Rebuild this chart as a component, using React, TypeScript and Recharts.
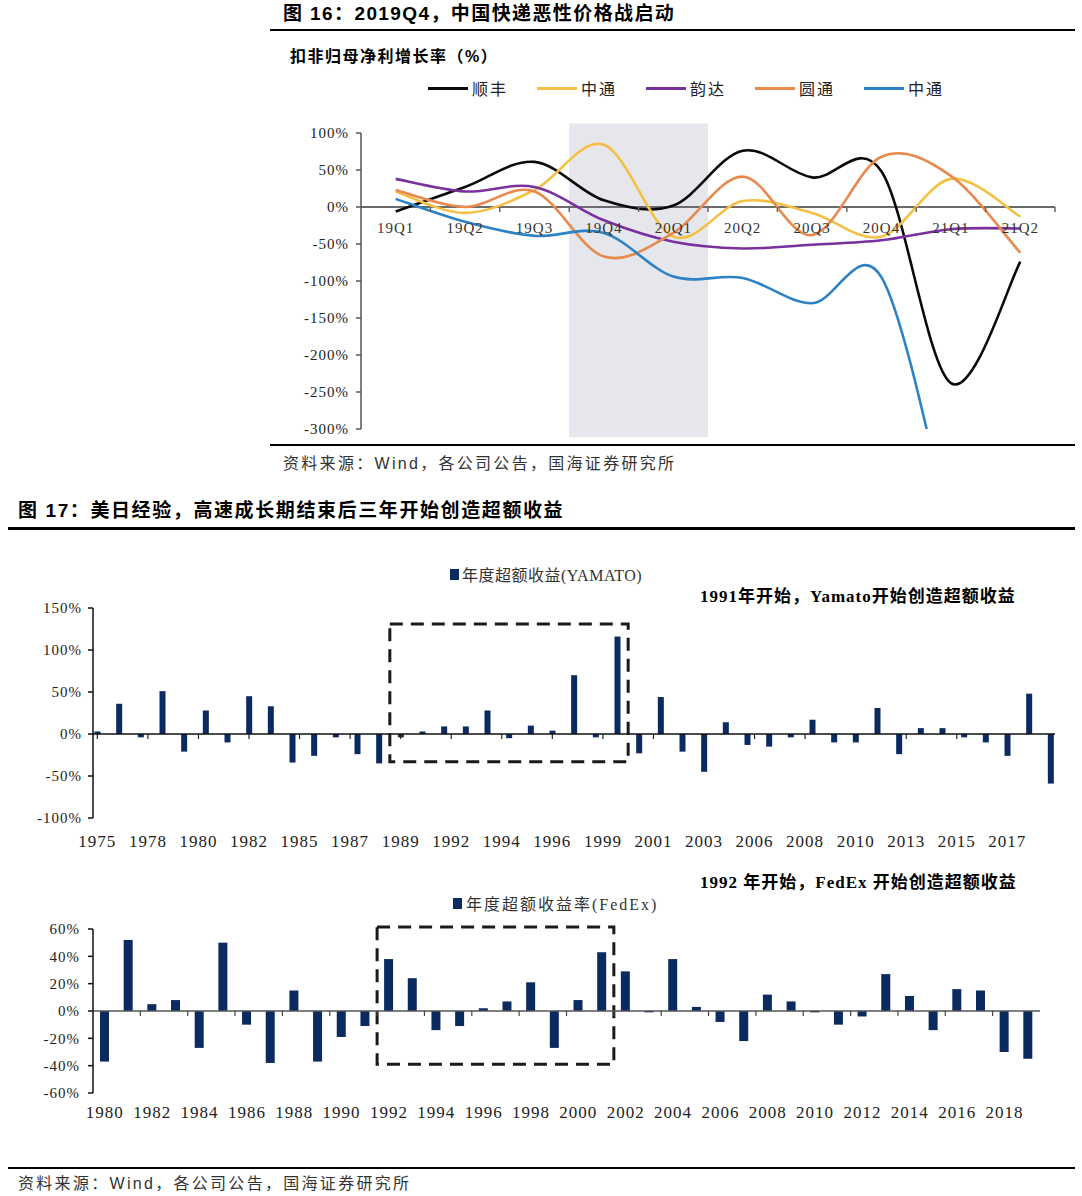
import React from 'react'
import {
  Bar,
  BarChart,
  Line,
  LineChart,
  ReferenceArea,
  ReferenceDot,
  ReferenceLine,
  XAxis,
  YAxis,
} from 'recharts'

// ---- 图16 data (扣非归母净利增长率, %) ----
const quarters = ['19Q1', '19Q2', '19Q3', '19Q4', '20Q1', '20Q2', '20Q3', '20Q4', '21Q1', '21Q2']
const sfGrowth = [-6, 27, 61, 9, 2, 76, 40, 48, -238, -74]
const ztoGrowth = [21, -8, 23, 84, -40, 8, -8, -40, 38, -13]
const yundaGrowth = [38, 21, 27, -18, -47, -56, -51, -45, -30, -29]
const ytoGrowth = [23, 0, 21, -67, -35, 41, -38, 68, 42, -62]
const stoGrowth = [11, -20, -39, -35, -94, -96, -130, -95, -440, null]
const growthTicks = [-300, -250, -200, -150, -100, -50, 0, 50, 100]

// ---- 图17 data (年度超额收益, %) ----
const yamatoYears = [
  1975, 1976, 1977, 1978, 1979, 1980, 1981, 1982, 1983, 1984, 1985, 1986, 1987, 1988, 1989,
  1990, 1991, 1992, 1993, 1994, 1995, 1996, 1997, 1998, 1999, 2000, 2001, 2002, 2003, 2004,
  2005, 2006, 2007, 2008, 2009, 2010, 2011, 2012, 2013, 2014, 2015, 2016, 2017, 2018, 2019,
]
const yamatoExcess = [
  3, 36, -4, 51, -21, 28, -10, 45, 33, -34, -26, -4, -24, -35, -4,
  3, 9, 9, 28, -5, 10, 4, 70, -4, 116, -23, 44, -21, -45, 14,
  -13, -15, -4, 17, -10, -10, 31, -24, 7, 7, -4, -10, -26, 48, -59,
]
const yamatoTickLabels = [
  '1975', '1978', '1980', '1982', '1985', '1987', '1989', '1992', '1994', '1996',
  '1999', '2001', '2003', '2006', '2008', '2010', '2013', '2015', '2017',
]
const yamatoTicks = [-100, -50, 0, 50, 100, 150]

const fedexYears = [
  1980, 1981, 1982, 1983, 1984, 1985, 1986, 1987, 1988, 1989, 1990, 1991, 1992, 1993, 1994,
  1995, 1996, 1997, 1998, 1999, 2000, 2001, 2002, 2003, 2004, 2005, 2006, 2007, 2008, 2009,
  2010, 2011, 2012, 2013, 2014, 2015, 2016, 2017, 2018, 2019,
]
const fedexExcess = [
  -37, 52, 5, 8, -27, 50, -10, -38, 15, -37, -19, -11, 38, 24, -14,
  -11, 2, 7, 21, -27, 8, 43, 29, -1, 38, 3, -8, -22, 12, 7,
  -1, -10, -4, 27, 11, -14, 16, 15, -30, -35,
]
const fedexTicks = [-60, -40, -20, 0, 20, 40, 60]

const growthRows = quarters.map((q, i) => ({
  q,
  sf: sfGrowth[i],
  zto: ztoGrowth[i],
  yunda: yundaGrowth[i],
  yto: ytoGrowth[i],
  sto: stoGrowth[i],
}))
const yamatoRows = yamatoYears.map((year, i) => ({ year, v: yamatoExcess[i] }))
const fedexRows = fedexYears.map((year, i) => ({ year, v: fedexExcess[i] }))

const seriesA = [
  { key: 'sf', name: '顺丰', color: '#0a0a0a' },
  { key: 'zto', name: '中通', color: '#f3c043' },
  { key: 'yunda', name: '韵达', color: '#7b30a0' },
  { key: 'yto', name: '圆通', color: '#e8894e' },
  { key: 'sto', name: '中通', color: '#2c82c4' },
]

const serif = "'Liberation Serif', 'Noto Sans CJK SC', serif"
const sans = "'Liberation Sans', 'Noto Sans CJK SC', sans-serif"
const navy = '#0b2a60'

// Excel-like smoothed line (Catmull-Rom through the points)
const smooth = (context: any) => {
  let pts: number[][] = []
  return {
    areaStart() {},
    areaEnd() {},
    lineStart() {
      pts = []
    },
    lineEnd() {
      if (!pts.length) return
      context.moveTo(pts[0][0], pts[0][1])
      for (let i = 0; i < pts.length - 1; i++) {
        const p0 = pts[i - 1] || pts[i]
        const p1 = pts[i]
        const p2 = pts[i + 1]
        const p3 = pts[i + 2] || p2
        context.bezierCurveTo(
          p1[0] + (p2[0] - p0[0]) / 6,
          p1[1] + (p2[1] - p0[1]) / 6,
          p2[0] - (p3[0] - p1[0]) / 6,
          p2[1] - (p3[1] - p1[1]) / 6,
          p2[0],
          p2[1],
        )
      }
    },
    point(x: number, y: number) {
      pts.push([+x, +y])
    },
  }
}

const Txt = ({ x, y, size, bold, family, spacing, color, children }: any) => (
  <div
    style={{
      position: 'absolute',
      left: x,
      top: y,
      fontSize: size,
      fontWeight: bold ? 700 : 400,
      fontFamily: family,
      letterSpacing: spacing,
      color: color || '#000',
      whiteSpace: 'nowrap',
      lineHeight: 1,
    }}
  >
    {children}
  </div>
)

const Rule = ({ x1, x2, y, w }: any) => (
  <div style={{ position: 'absolute', left: x1, top: y, width: x2 - x1, height: w, background: '#000' }} />
)

// chart A geometry
const aW = 790
const aH = 335
const aMargin = { top: 23, right: 15, bottom: 16, left: 0 }
const aYW = 81
const aBand = (aW - aYW - aMargin.right) / quarters.length

// chart C geometry
const cW = 1075
const cMargin = { top: 14, right: 35, bottom: 7, left: 0 }
const cYW = 93
const cBand = (cW - cYW - cMargin.right) / fedexYears.length

const yTick = { fontFamily: serif, fontSize: 15, fill: '#222', letterSpacing: 1 }
const xTick = { fontFamily: serif, fontSize: 17, fill: '#222', letterSpacing: 1 }

const GrowthChart = () => (
  <LineChart width={aW} height={aH} data={growthRows} margin={aMargin}>
    <XAxis dataKey="q" scale="band" hide />
    <YAxis
      width={aYW}
      domain={[-300, 100]}
      ticks={growthTicks}
      allowDataOverflow
      interval={0}
      tickFormatter={(v) => `${v}%`}
      tick={yTick}
      tickSize={5}
      tickMargin={7}
      axisLine={{ stroke: '#555', strokeWidth: 1.5 }}
      tickLine={{ stroke: '#555', strokeWidth: 1.5 }}
    />
    <ReferenceArea
      x1="19Q4"
      x2="20Q1"
      y1={-311}
      y2={113}
      fill="#e5e7ed"
      fillOpacity={1}
      stroke="none"
      ifOverflow="visible"
    />
    <ReferenceLine y={0} stroke="#6b6b6b" strokeWidth={2} />
    {quarters.map((q) => (
      <ReferenceDot
        key={q}
        x={q}
        y={0}
        r={0}
        shape={(p: any) => (
          <g>
            <line x1={p.cx + aBand / 2} x2={p.cx + aBand / 2} y1={p.cy} y2={p.cy + 5} stroke="#666" strokeWidth={1.5} />
            <text
              x={p.cx}
              y={p.cy + 21}
              textAnchor="middle"
              dominantBaseline="central"
              fontFamily={serif}
              fontSize={15}
              letterSpacing={1}
              fill="#333"
            >
              {q}
            </text>
          </g>
        )}
      />
    ))}
    {seriesA.map((s) => (
      <Line
        key={s.key}
        dataKey={s.key}
        name={s.name}
        type={smooth as any}
        stroke={s.color}
        strokeWidth={2.6}
        dot={false}
        activeDot={false}
        isAnimationActive={false}
      />
    ))}
  </LineChart>
)

const YamatoChart = () => (
  <BarChart width={1075} height={260} data={yamatoRows} margin={{ top: 8, right: 20, bottom: 7, left: 0 }}>
    <XAxis
      dataKey="year"
      type="number"
      domain={[1974.8, 2019.2]}
      allowDataOverflow
      ticks={yamatoTickLabels.map((_, i) => 1975 + (i * 7) / 3)}
      interval={0}
      tickFormatter={(_v, i) => yamatoTickLabels[i]}
      axisLine={false}
      tickLine={false}
      tickSize={0}
      tickMargin={17}
      height={35}
      tick={xTick}
    />
    <YAxis
      width={93}
      domain={[-100, 150]}
      ticks={yamatoTicks}
      interval={0}
      tickFormatter={(v) => `${v}%`}
      tick={yTick}
      tickSize={5}
      tickMargin={6}
      axisLine={{ stroke: '#111', strokeWidth: 1.5 }}
      tickLine={{ stroke: '#111', strokeWidth: 1.5 }}
    />
    <ReferenceLine y={0} stroke="#111" strokeWidth={1.5} />
    {yamatoTickLabels.map((t, i) => (
      <ReferenceDot
        key={t}
        x={1975 + (i * 7) / 3}
        y={0}
        r={0}
        shape={(p: any) => <line x1={p.cx} x2={p.cx} y1={p.cy} y2={p.cy + 5} stroke="#222" strokeWidth={1.2} />}
      />
    ))}
    <Bar dataKey="v" fill={navy} barSize={6} isAnimationActive={false} />
    <ReferenceArea
      x1={1988.5}
      x2={1999.5}
      y1={-33}
      y2={131}
      fill="none"
      stroke="#1a1a1a"
      strokeWidth={3}
      strokeDasharray="13 8"
      ifOverflow="visible"
    />
  </BarChart>
)

const FedexChart = () => (
  <BarChart width={cW} height={215} data={fedexRows} margin={cMargin}>
    <XAxis
      dataKey="year"
      interval={1}
      axisLine={false}
      tickLine={false}
      tickSize={0}
      tickMargin={13}
      height={30}
      tick={xTick}
    />
    <YAxis
      width={cYW}
      domain={[-60, 60]}
      ticks={fedexTicks}
      interval={0}
      tickFormatter={(v) => `${v}%`}
      tick={yTick}
      tickSize={5}
      tickMargin={8}
      axisLine={{ stroke: '#111', strokeWidth: 1.5 }}
      tickLine={{ stroke: '#111', strokeWidth: 1.5 }}
    />
    <ReferenceLine y={0} stroke="#555" strokeWidth={1.5} />
    {fedexYears
      .filter((_, i) => i % 2 === 0 && i > 0)
      .map((yr) => (
        <ReferenceDot
          key={yr}
          x={yr}
          y={0}
          r={0}
          shape={(p: any) => (
            <line x1={p.cx - cBand / 2} x2={p.cx - cBand / 2} y1={p.cy} y2={p.cy + 5} stroke="#444" strokeWidth={1.2} />
          )}
        />
      ))}
    <Bar dataKey="v" fill={navy} barSize={9} isAnimationActive={false} />
    <ReferenceArea
      x1={1992}
      x2={2001}
      y1={-39}
      y2={61.5}
      fill="none"
      stroke="#1a1a1a"
      strokeWidth={3}
      strokeDasharray="13 8"
      ifOverflow="visible"
    />
  </BarChart>
)

export default function App() {
  return (
    <div style={{ position: 'absolute', left: 0, top: 0, width: 1082, height: 1196, background: '#fff', overflow: 'hidden' }}>
      <Txt x={283} y={4} size={19} bold family={sans} spacing={1.4}>
        图 16：2019Q4，中国快递恶性价格战启动
      </Txt>
      <Rule x1={270} x2={1075} y={29} w={2} />

      <Txt x={290} y={49} size={16} bold family={sans} spacing={1.5}>
        扣非归母净利增长率（%）
      </Txt>
      {seriesA.map((s, i) => (
        <div
          key={s.key + i}
          style={{ position: 'absolute', left: 428 + i * 109, top: 79, height: 18, display: 'flex', alignItems: 'center' }}
        >
          <div style={{ width: 40, height: 3, background: s.color, marginRight: 4 }} />
          <span style={{ fontFamily: serif, fontSize: 16, letterSpacing: 2, color: '#222' }}>{s.name}</span>
        </div>
      ))}

      <div style={{ position: 'absolute', left: 280, top: 110 }}>
        <GrowthChart />
      </div>

      <Rule x1={270} x2={1075} y={444} w={2} />
      <Txt x={283} y={456} size={16} family={sans} spacing={2.3} color="#333">
        资料来源：Wind，各公司公告，国海证券研究所
      </Txt>

      <Txt x={18} y={501} size={19} bold family={sans} spacing={1.6}>
        图 17：美日经验，高速成长期结束后三年开始创造超额收益
      </Txt>
      <Rule x1={8} x2={1075} y={527} w={2.5} />

      <div style={{ position: 'absolute', left: 450, top: 566, display: 'flex', alignItems: 'center', height: 16 }}>
        <div style={{ width: 9, height: 11, background: navy, marginRight: 3 }} />
        <span style={{ fontFamily: serif, fontSize: 16, letterSpacing: 0.5, color: '#333' }}>年度超额收益(YAMATO)</span>
      </div>
      <Txt x={700} y={588} size={17} bold family={serif} spacing={1}>
        1991年开始，Yamato开始创造超额收益
      </Txt>

      <div style={{ position: 'absolute', left: 0, top: 600 }}>
        <YamatoChart />
      </div>

      <Txt x={700} y={874} size={17} bold family={serif} spacing={1}>
        1992 年开始，FedEx 开始创造超额收益
      </Txt>
      <div style={{ position: 'absolute', left: 453, top: 895, display: 'flex', alignItems: 'center', height: 16 }}>
        <div style={{ width: 9, height: 11, background: navy, marginRight: 4 }} />
        <span style={{ fontFamily: serif, fontSize: 16, letterSpacing: 2, color: '#333' }}>年度超额收益率(FedEx)</span>
      </div>

      <div style={{ position: 'absolute', left: 0, top: 915 }}>
        <FedexChart />
      </div>

      <Rule x1={8} x2={1075} y={1167} w={2} />
      <Txt x={18} y={1176} size={16} family={sans} spacing={2.3} color="#333">
        资料来源：Wind，各公司公告，国海证券研究所
      </Txt>
    </div>
  )
}
